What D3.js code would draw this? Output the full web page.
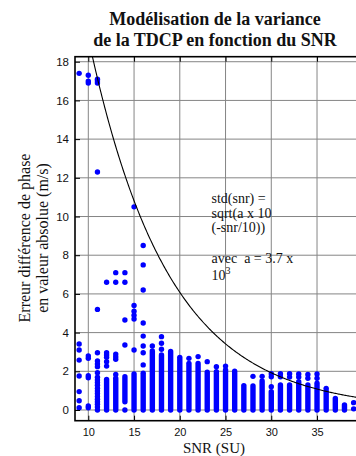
<!DOCTYPE html>
<html><head><meta charset="utf-8">
<script src="https://cdn.jsdelivr.net/npm/d3@7"></script>
<style>body{margin:0;background:#fff;}svg{display:block;}</style>
</head><body>
<svg id="chart" width="356" height="456"></svg>
<script>
// ---------- data ----------
const titleLines = ["Modélisation de la variance", "de la TDCP en fonction du SNR"];
const xLabel = "SNR (SU)";
const yLabelLines = ["Erreur différence de phase", "en valeur absolue (m/s)"];
const snrTicks = [10, 15, 20, 25, 30, 35];
const errTicks = [0, 2, 4, 6, 8, 10, 12, 14, 16, 18];
const modelA = 3.7e3;              // std(snr) = sqrt(a x 10^(-snr/10))
const annotationLines = ["std(snr) =", "sqrt(a x 10", "(-snr/10))", "avec  a = 3.7 x"];
const annotationBase = "10", annotationSup = "3";

// isolated measurements [snr, error]
const isolatedPoints = [
  [9,17.4],[9,3.41],[9,3.10],[9,2.58],[9,1.76],[9,0.95],[9,0.48],[9,0.12],
  [10,17.3],[10,17.0],[10,16.9],[10,2.79],[10,2.67],[10,1.77],[10,1.67],[10,0.21],[10,0.12],
  [11,17.1],[11,17.0],[11,16.9],[11,12.3],[11,5.2],[11,2.96],[11,2.53],[11,2.38],[11,2.24],[11,1.93],
  [11,1.69],[11,1.55],[11,1.42],[11,1.28],[11,1.12],[11,0.98],[11,0.85],[11,0.7],[11,0.56],[11,0.43],[11,0.3],[11,0.15],[11,0.0],
  [12,6.6],[12,2.96],[12,2.84],[12,2.72],[12,2.5],[12,2.27],
  [13,7.1],[13,6.6],[13,2.89],[13,2.75],[13,2.62],[13,1.84],
  [14,7.1],[14,6.6],[14,4.65],[14,3.36],[14,0.0],
  [15,10.5],[15,5.4],[15,5.1],[15,4.9],[15,4.7],[15,3.1],
  [16,8.5],[16,7.5],[16,6.2],[16,4.5],[16,3.82],[16,3.31],[16,2.96],[16,2.33],
  [17,3.31],
  [18,3.79],[18,3.45],[18,3.14],
  [21,2.67],[22,2.76],[23,2.5],[24,2.24],[25,2.27],
  [28,1.74],[29,1.74],
  [30,1.88],[30,1.72],[30,1.2],
  [31,1.88],[31,1.72],[32,1.88],[32,1.7],[33,1.86],[33,1.7],[34,1.84],[34,1.64],[35,1.86],[35,1.64],
  [36,1.12],[39,0.38],[39,0.06]
];
// dense stacks of measurements [snr, lowest error, highest error]
const denseRuns = [
  [12,0,1.58],[13,0,1.64],[14,0.43,1.72],[15,0,1.86],[16,0,1.9],[17,0,3.05],[18,0,2.84],
  [19,0,3.02],[20,0,2.72],[21,0,2.41],[22,0,2.4],[23,0,1.95],[24,0,1.98],[25,0,2.07],
  [26,0,2.0],[27,0,1.26],[28,0,1.24],[29,0,1.5],[30,0,0.95],[31,0,1.29],[32,0,1.29],
  [33,0,1.46],[34,0,1.29],[35,0,1.38],[36,0,0.98],[37,0,0.6],[38,0,0.26]
];

// ---------- layout ----------
const L = 75, T = 56.7, R = 356, B = 420.7;
const svg = d3.select("#chart");
const x = d3.scaleLinear().domain([8.546, 39.26]).range([L, R]);
const y = d3.scaleLinear().domain([-0.553, 18.26]).range([B, T]);
const blue = "#0000ff";

svg.append("defs").append("clipPath").attr("id", "plotClip")
  .append("rect").attr("x", L).attr("y", T).attr("width", R - L).attr("height", B - T);

// grid
const grid = svg.append("g").attr("stroke", "#858585").attr("stroke-width", 1);
grid.selectAll("line.v").data(snrTicks).join("line").attr("class", "v")
  .attr("x1", d => x(d)).attr("x2", d => x(d)).attr("y1", T).attr("y2", B);
grid.selectAll("line.h").data(errTicks).join("line").attr("class", "h")
  .attr("x1", L).attr("x2", R).attr("y1", d => y(d)).attr("y2", d => y(d));

// data
const plot = svg.append("g").attr("clip-path", "url(#plotClip)");
plot.selectAll("line.run").data(denseRuns).join("line").attr("class", "run")
  .attr("x1", d => x(d[0])).attr("x2", d => x(d[0]))
  .attr("y1", d => y(d[1])).attr("y2", d => y(d[2]))
  .attr("stroke", blue).attr("stroke-width", 5.4).attr("stroke-linecap", "round");
plot.selectAll("circle.pt").data(isolatedPoints).join("circle").attr("class", "pt")
  .attr("cx", d => x(d[0])).attr("cy", d => y(d[1])).attr("r", 2.7).attr("fill", blue);

// model curve
const curveSnr = d3.range(9, 39.5, 0.1);
plot.append("path")
  .datum(curveSnr.map(s => [s, Math.sqrt(modelA * Math.pow(10, -s / 10))]))
  .attr("fill", "none").attr("stroke", "#000").attr("stroke-width", 1.1)
  .attr("d", d3.line().x(d => x(d[0])).y(d => y(d[1])));

// axes
const xAxis = svg.append("g").attr("transform", `translate(0,${B})`)
  .call(d3.axisBottom(x).tickValues(snrTicks).tickSize(-5).tickPadding(8).tickFormat(d3.format("d")));
const xAxisTop = svg.append("g").attr("transform", `translate(0,${T})`)
  .call(d3.axisTop(x).tickValues(snrTicks).tickSize(-5).tickFormat(""));
const yAxis = svg.append("g").attr("transform", `translate(${L},0)`)
  .call(d3.axisLeft(y).tickValues(errTicks).tickSize(-5).tickPadding(6).tickFormat(d3.format("d")));
[xAxis, xAxisTop, yAxis].forEach(g => {
  g.select(".domain").remove();
  g.selectAll(".tick line").attr("stroke", "#000");
  g.selectAll("text").attr("font-family", "'Liberation Sans', Arial, sans-serif")
    .attr("font-size", 11.5).attr("fill", "#111");
});
xAxis.selectAll("text").attr("font-size", 11);
svg.append("rect").attr("x", L).attr("y", T).attr("width", R - L + 2).attr("height", B - T)
  .attr("fill", "none").attr("stroke", "#000").attr("stroke-width", 1.6);

// title
svg.append("g").selectAll("text").data(titleLines).join("text")
  .attr("x", 215).attr("y", (d, i) => 25 + i * 21).attr("text-anchor", "middle")
  .attr("font-family", "'Liberation Serif', 'Times New Roman', serif")
  .attr("font-weight", "bold").attr("font-size", 18).attr("fill", "#111").text(d => d);

// x label
svg.append("text").attr("x", 214).attr("y", 453).attr("text-anchor", "middle")
  .attr("font-family", "'Liberation Serif', 'Times New Roman', serif")
  .attr("font-size", 15).attr("fill", "#111").text(xLabel);

// y label
svg.append("g").selectAll("text").data(yLabelLines).join("text")
  .attr("transform", (d, i) => `translate(${30 + i * 18},238) rotate(-90)`)
  .attr("text-anchor", "middle")
  .attr("font-family", "'Liberation Serif', 'Times New Roman', serif")
  .attr("font-size", 16).attr("fill", "#111").text(d => d);

// annotation
const ann = svg.append("g").attr("font-family", "'Liberation Serif', 'Times New Roman', serif")
  .attr("font-size", 14).attr("fill", "#111");
const annY = [203, 217.5, 232, 263];
ann.selectAll("text.l").data(annotationLines).join("text").attr("class", "l")
  .attr("x", 211.5).attr("y", (d, i) => annY[i]).attr("xml:space", "preserve").text(d => d);
const pw = ann.append("text").attr("x", 211.5).attr("y", 280);
pw.append("tspan").text(annotationBase);
pw.append("tspan").attr("dy", -6).attr("font-size", 10).text(annotationSup);
</script>
</body></html>
